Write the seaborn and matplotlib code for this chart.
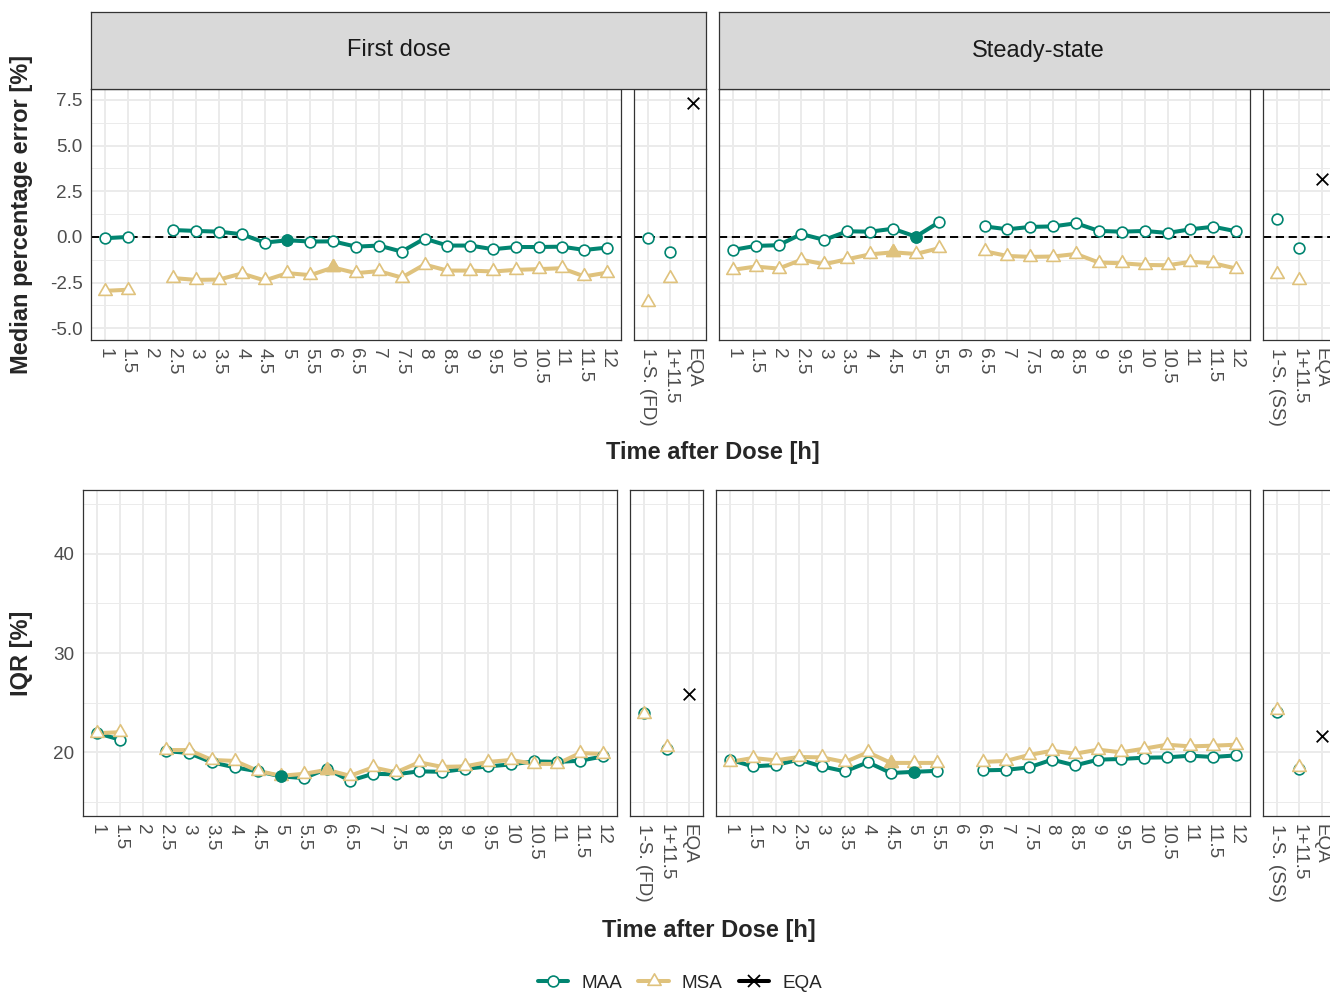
import numpy as np
import pandas as pd
import matplotlib
matplotlib.use("Agg")
import matplotlib.pyplot as plt
import seaborn as sns
from matplotlib.lines import Line2D
from matplotlib.path import Path
from matplotlib.ticker import MultipleLocator

# ---------------- data ----------------
times = ["1", "1.5", "2", "2.5", "3", "3.5", "4", "4.5", "5", "5.5", "6",
         "6.5", "7", "7.5", "8", "8.5", "9", "9.5", "10", "10.5", "11", "11.5", "12"]
summary_fd = ["1-S. (FD)", "1+11.5", "EQA"]
summary_ss = ["1-S. (SS)", "1+11.5", "EQA"]
strip_labels = ["First dose", "Steady-state"]
methods = ["MAA", "MSA"]
nan = np.nan

# Median percentage error [%]
mpe_fd_maa = [-0.07, 0.00, nan, 0.38, 0.33, 0.29, 0.15, -0.31, -0.18, -0.25, -0.24,
              -0.53, -0.47, -0.80, -0.09, -0.47, -0.47, -0.67, -0.55, -0.55, -0.53, -0.71, -0.58]
mpe_fd_msa = [-2.95, -2.89, nan, -2.25, -2.35, -2.33, -2.00, -2.38, -1.98, -2.09, -1.67,
              -1.98, -1.87, -2.22, -1.51, -1.84, -1.84, -1.89, -1.80, -1.76, -1.71, -2.16, -1.95]
mpe_ss_maa = [-0.71, -0.49, -0.45, 0.16, -0.16, 0.31, 0.29, 0.45, 0.02, 0.80, nan,
              0.58, 0.42, 0.55, 0.58, 0.75, 0.33, 0.29, 0.33, 0.22, 0.42, 0.56, 0.31]
mpe_ss_msa = [-1.80, -1.62, -1.73, -1.25, -1.49, -1.22, -0.95, -0.84, -0.93, -0.62, nan,
              -0.78, -1.04, -1.09, -1.07, -0.93, -1.40, -1.44, -1.53, -1.55, -1.36, -1.44, -1.73]
mpe_fd_sum_maa = [-0.05, -0.82]
mpe_fd_sum_msa = [-3.55, -2.27]
mpe_fd_eqa = 7.33
mpe_ss_sum_maa = [0.98, -0.58]
mpe_ss_sum_msa = [-2.02, -2.38]
mpe_ss_eqa = 3.16

# IQR [%]
iqr_fd_maa = [21.92, 21.25, nan, 20.10, 19.90, 18.96, 18.45, 18.05, 17.54, 17.37, 18.30,
              17.10, 17.80, 17.75, 18.05, 18.00, 18.30, 18.55, 18.75, 19.06, 19.00, 19.12, 19.56]
iqr_fd_msa = [21.90, 22.00, nan, 20.20, 20.20, 19.20, 19.10, 18.10, 17.60, 17.80, 18.20,
              17.60, 18.45, 17.95, 18.96, 18.50, 18.55, 19.00, 19.20, 18.80, 18.80, 19.90, 19.80]
iqr_ss_maa = [19.23, 18.55, 18.69, 19.23, 18.55, 18.05, 18.96, 17.88, 18.00, 18.10, nan,
              18.15, 18.20, 18.45, 19.23, 18.65, 19.23, 19.30, 19.43, 19.46, 19.63, 19.50, 19.66]
iqr_ss_msa = [19.00, 19.40, 19.16, 19.50, 19.46, 18.99, 19.97, 18.90, 18.90, 18.90, nan,
              19.00, 19.10, 19.70, 20.13, 19.83, 20.24, 19.97, 20.34, 20.74, 20.57, 20.64, 20.74]
iqr_fd_sum_maa = [23.90, 20.35]
iqr_fd_sum_msa = [23.80, 20.55]
iqr_fd_eqa = 25.90
iqr_ss_sum_maa = [24.05, 18.30]
iqr_ss_sum_msa = [24.20, 18.45]
iqr_ss_eqa = 21.65

# highlighted (filled) time points
best_mpe_fd = {"MAA": "5", "MSA": "6"}
best_mpe_ss = {"MAA": "5", "MSA": "4.5"}
best_iqr_fd = {"MAA": "5", "MSA": "6"}
best_iqr_ss = {"MAA": "5", "MSA": "4.5"}

# ---------------- style ----------------
TEAL = "#018571"
TAN = "#DFC27D"
palette = {"MAA": TEAL, "MSA": TAN}
TRI = Path([(0, 1), (-0.866, -0.5), (0.866, -0.5), (0, 1)],
           [Path.MOVETO, Path.LINETO, Path.LINETO, Path.CLOSEPOLY])
marker_of = {"MAA": "o", "MSA": TRI}
size_of = {"MAA": 60, "MSA": 125}
LW = 2.9

sns.set_theme(style="white")
plt.rcParams["font.family"] = ["Liberation Sans", "DejaVu Sans"]

W, H = 1330, 993
fig = plt.figure(figsize=(W / 100, H / 100), dpi=100)


def rect(x0, y0, x1, y1):
    return [x0 / W, 1 - y1 / H, (x1 - x0) / W, (y1 - y0) / H]


def base_axes(r, ylim, major, minor, cats, show_y):
    ax = fig.add_axes(r)
    ax.set_facecolor("white")
    ax.set_ylim(*ylim)
    ax.set_xlim(-0.6, len(cats) - 1 + 0.6)
    ax.yaxis.set_major_locator(MultipleLocator(major))
    ax.yaxis.set_minor_locator(MultipleLocator(minor))
    ax.set_xticks(range(len(cats)))
    ax.set_xticklabels(cats, rotation=270, ha="center", va="top",
                       fontsize=13.6, color="#4D4D4D")
    ax.set_axisbelow(True)
    ax.grid(which="major", color="#EBEBEB", lw=1.4)
    ax.grid(which="minor", axis="y", color="#EBEBEB", lw=0.7)
    for s in ax.spines.values():
        s.set_color("#333333")
        s.set_linewidth(0.9)
    ax.tick_params(axis="both", which="major", length=3.6, width=0.9,
                   color="#333333", pad=2.5)
    ax.tick_params(axis="y", which="minor", length=0)
    ax.tick_params(axis="y", labelsize=13.6, labelcolor="#4D4D4D")
    if not show_y:
        ax.tick_params(axis="y", left=False, labelleft=False)
    ax.set_xlabel("")
    ax.set_ylabel("")
    return ax


def long_frame(maa, msa):
    df = pd.DataFrame({
        "pos": np.tile(np.arange(len(times)), 2),
        "time": times * 2,
        "value": np.concatenate([maa, msa]),
        "method": np.repeat(methods, len(times)),
    })
    df["segment"] = df.groupby("method")["value"].transform(lambda v: v.isna().cumsum())
    return df.dropna()


def draw_main(ax, maa, msa, best):
    d = long_frame(maa, msa)
    sns.lineplot(data=d, x="pos", y="value", hue="method", units="segment",
                 estimator=None, sort=False, palette=palette, lw=LW,
                 legend=False, ax=ax, zorder=2)
    for m in methods:
        sub = d[d.method == m]
        sns.scatterplot(data=sub, x="pos", y="value", marker=marker_of[m], s=size_of[m],
                        color="white", edgecolor=palette[m], linewidth=1.2,
                        legend=False, ax=ax, zorder=3)
    for m in methods:
        sub = d[(d.method == m) & (d.time == best[m])]
        sns.scatterplot(data=sub, x="pos", y="value", marker=marker_of[m], s=size_of[m],
                        color=palette[m], edgecolor=palette[m], linewidth=1.2,
                        legend=False, ax=ax, zorder=4)
    ax.set_xlabel("")
    ax.set_ylabel("")


def draw_summary(ax, cats, maa, msa, eqa):
    d = pd.DataFrame({"pos": [0, 1, 0, 1], "value": maa + msa,
                      "method": ["MAA", "MAA", "MSA", "MSA"]})
    for m in methods:
        sub = d[d.method == m]
        sns.scatterplot(data=sub, x="pos", y="value", marker=marker_of[m], s=size_of[m],
                        color="white", edgecolor=palette[m], linewidth=1.2,
                        legend=False, ax=ax, zorder=3)
    e = pd.DataFrame({"pos": [cats.index("EQA")], "value": [eqa]})
    sns.scatterplot(data=e, x="pos", y="value", marker="x", s=70, color="black",
                    linewidth=1.3, legend=False, ax=ax, zorder=3)
    ax.set_xlabel("")
    ax.set_ylabel("")


top_ylim = (-5.64, 8.1)
bot_ylim = (13.54, 46.46)

# top row
axA = base_axes(rect(91, 89, 621, 340), top_ylim, 2.5, 1.25, times, True)
axB = base_axes(rect(634, 89, 706, 340), top_ylim, 2.5, 1.25, summary_fd, False)
axC = base_axes(rect(719, 89, 1250, 340), top_ylim, 2.5, 1.25, times, False)
axD = base_axes(rect(1263, 89, 1335, 340), top_ylim, 2.5, 1.25, summary_ss, False)
axA.set_yticks([-5, -2.5, 0, 2.5, 5, 7.5])
axA.set_yticklabels(["-5.0", "-2.5", "0.0", "2.5", "5.0", "7.5"])
for ax in (axA, axB, axC, axD):
    ax.axhline(0, color="black", lw=1.4, ls=(0, (4.2, 2.4)), zorder=1.5)
draw_main(axA, mpe_fd_maa, mpe_fd_msa, best_mpe_fd)
draw_summary(axB, summary_fd, mpe_fd_sum_maa, mpe_fd_sum_msa, mpe_fd_eqa)
draw_main(axC, mpe_ss_maa, mpe_ss_msa, best_mpe_ss)
draw_summary(axD, summary_ss, mpe_ss_sum_maa, mpe_ss_sum_msa, mpe_ss_eqa)
for ax in (axA, axB, axC, axD):
    ax.set_ylim(*top_ylim)
    ax.set_xlim(-0.6, len(ax.get_xticks()) - 1 + 0.6)

# bottom row
bxA = base_axes(rect(83, 490, 617, 816), bot_ylim, 10, 5, times, True)
bxB = base_axes(rect(630, 490, 703, 816), bot_ylim, 10, 5, summary_fd, False)
bxC = base_axes(rect(716, 490, 1250, 816), bot_ylim, 10, 5, times, False)
bxD = base_axes(rect(1263, 490, 1335, 816), bot_ylim, 10, 5, summary_ss, False)
bxA.set_yticks([20, 30, 40])
draw_main(bxA, iqr_fd_maa, iqr_fd_msa, best_iqr_fd)
draw_summary(bxB, summary_fd, iqr_fd_sum_maa, iqr_fd_sum_msa, iqr_fd_eqa)
draw_main(bxC, iqr_ss_maa, iqr_ss_msa, best_iqr_ss)
draw_summary(bxD, summary_ss, iqr_ss_sum_maa, iqr_ss_sum_msa, iqr_ss_eqa)
for ax in (bxA, bxB, bxC, bxD):
    ax.set_ylim(*bot_ylim)
    ax.set_xlim(-0.6, len(ax.get_xticks()) - 1 + 0.6)

# strips
for (x0, x1), lab in zip([(91, 706), (719, 1357)], strip_labels):
    s = fig.add_axes(rect(x0, 12, x1, 89))
    s.set_facecolor("#D9D9D9")
    s.set_xticks([])
    s.set_yticks([])
    for sp in s.spines.values():
        sp.set_color("#333333")
        sp.set_linewidth(0.9)
    s.text(0.5, 0.5, lab, transform=s.transAxes, ha="center", va="center",
           fontsize=17, color="#1A1A1A")

# axis titles
fig.text(22 / W, 1 - 214 / H, "Median percentage error [%]", rotation=90,
         ha="center", va="center", fontsize=17, fontweight="bold")
fig.text(22 / W, 1 - 653 / H, "IQR [%]", rotation=90,
         ha="center", va="center", fontsize=17, fontweight="bold")
fig.text(713 / W, 1 - 453 / H, "Time after Dose [h]", ha="center", va="center",
         fontsize=17, fontweight="bold")
fig.text(709 / W, 1 - 930 / H, "Time after Dose [h]", ha="center", va="center",
         fontsize=17, fontweight="bold")

# legend
handles = [
    Line2D([], [], color=TEAL, lw=LW, marker="o", markersize=7.8,
           markerfacecolor="white", markeredgecolor=TEAL, markeredgewidth=1.2),
    Line2D([], [], color=TAN, lw=LW, marker=TRI, markersize=11,
           markerfacecolor="white", markeredgecolor=TAN, markeredgewidth=1.2),
    Line2D([], [], color="black", lw=LW, marker="x", markersize=8,
           markeredgecolor="black", markeredgewidth=1.3),
]
fig.legend(handles, ["MAA", "MSA", "EQA"], loc="center",
           bbox_to_anchor=(680 / W, 1 - 983 / H), ncol=3, frameon=False,
           fontsize=13.6, handlelength=1.6, handletextpad=0.7, columnspacing=0.85)

fig.savefig("out.png", dpi=100)
